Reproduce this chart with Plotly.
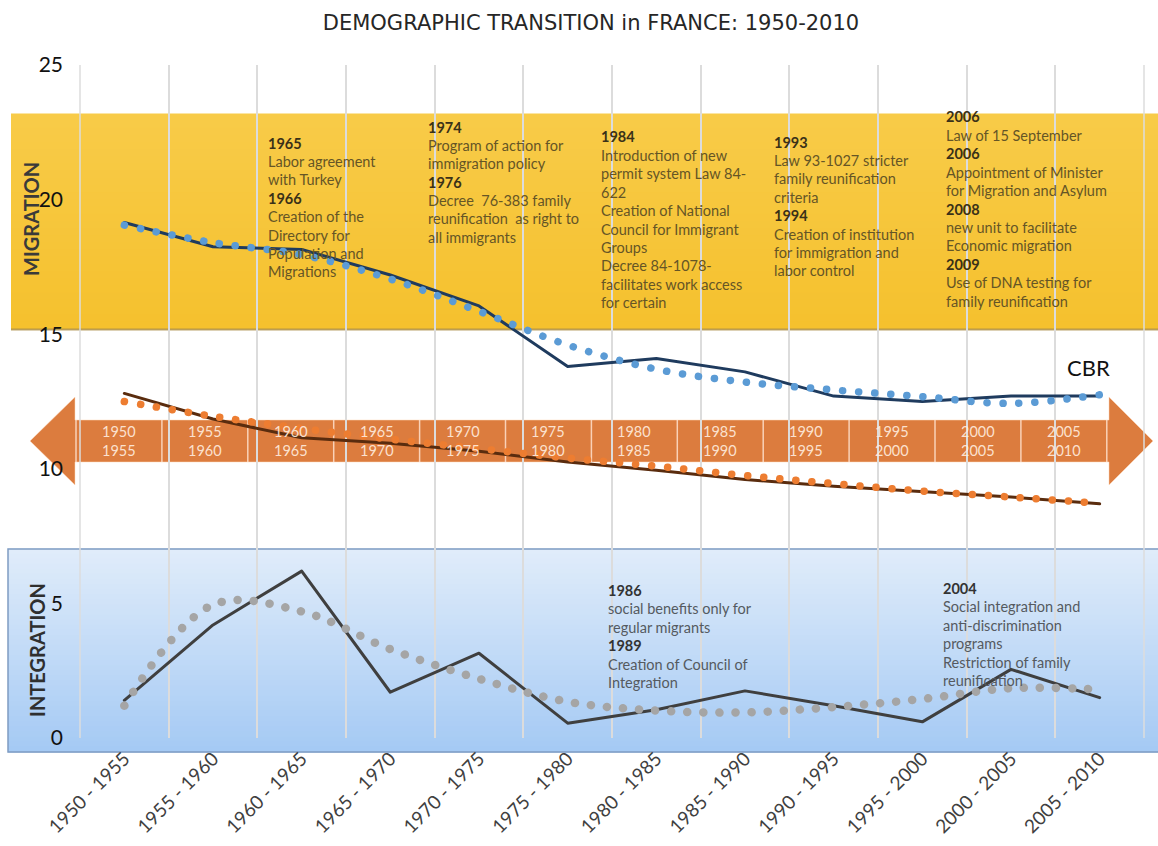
import plotly.graph_objects as go

# ---------------- data ----------------
categories = ["1950 - 1955", "1955 - 1960", "1960 - 1965", "1965 - 1970",
              "1970 - 1975", "1975 - 1980", "1980 - 1985", "1985 - 1990",
              "1990 - 1995", "1995 - 2000", "2000 - 2005", "2005 - 2010"]

cbr = [19.15, 18.25, 18.15, 17.2, 16.05, 13.8, 14.1, 13.6, 12.7, 12.5, 12.7, 12.7]
cbr_trend = [19.05, 18.4, 17.95, 17.05, 15.85, 14.6, 13.7, 13.22, 12.93, 12.68, 12.43, 12.75]

cdr = [12.8, 11.85, 11.15, 10.95, 10.65, 10.25, 9.95, 9.6, 9.35, 9.15, 8.95, 8.7]
cdr_trend = [12.5, 11.95, 11.5, 11.1, 10.75, 10.4, 10.1, 9.75, 9.45, 9.17, 8.95, 8.72]

integration = [1.4, 4.2, 6.2, 1.7, 3.15, 0.55, 1.05, 1.75, 1.2, 0.6, 2.55, 1.5]
integration_trend = [1.2, 4.95, 4.7, 3.3, 2.2, 1.35, 1.02, 0.95, 1.15, 1.45, 1.85, 1.8]

y_ticks = [0, 5, 10, 15, 20, 25]

arrow_start = ["1950", "1955", "1960", "1965", "1970", "1975",
               "1980", "1985", "1990", "1995", "2000", "2005"]
arrow_end = ["1955", "1960", "1965", "1970", "1975", "1980",
             "1985", "1990", "1995", "2000", "2005", "2010"]

migration_notes = [
    ["<b>1965</b>", "Labor agreement", "with Turkey", "<b>1966</b>", "Creation of the",
     "Directory for", "Population and", "Migrations"],
    ["<b>1974</b>", "Program of action for", "immigration policy", "<b>1976</b>",
     "Decree  76-383 family", "reunification  as right to", "all immigrants"],
    ["<b>1984</b>", "Introduction of new", "permit system Law 84-", "622",
     "Creation of National", "Council for Immigrant", "Groups", "Decree 84-1078-",
     "facilitates work access", "for certain"],
    ["<b>1993</b>", "Law 93-1027 stricter", "family reunification", "criteria",
     "<b>1994</b>", "Creation of institution", "for immigration and", "labor control"],
    ["<b>2006</b>", "Law of 15 September", "<b>2006</b>", "Appointment of Minister",
     "for Migration and Asylum", "<b>2008</b>", "new unit to facilitate",
     "Economic migration", "<b>2009</b>", "Use of DNA testing for", "family reunification"],
]
integration_notes = [
    ["<b>1986</b>", "social benefits only for", "regular migrants", "<b>1989</b>",
     "Creation of Council of", "Integration"],
    ["<b>2004</b>", "Social integration and", "anti-discrimination", "programs",
     "Restriction of family", "reunification"],
]

# ---------------- layout geometry ----------------
W, H = 1158, 846
L, R, T, B = 80, 1144, 65, 738   # plot area in pixels
FONT = "Lato"
GRID = "#DCDCDC"


def px(xp):
    return (xp - L) / (R - L)


def py(yp):
    return (B - yp) / (B - T)


fig = go.Figure()

line_w = 3
dot_w = 7.5
trend_dash = "0.1px,16px"

fig.add_trace(go.Scatter(x=categories, y=cbr, mode="lines",
                         line=dict(color="#1F3B5E", width=line_w), hoverinfo="skip"))
fig.add_trace(go.Scatter(x=categories, y=cdr, mode="lines",
                         line=dict(color="#5A2C0E", width=line_w), hoverinfo="skip"))
fig.add_trace(go.Scatter(x=categories, y=integration, mode="lines",
                         line=dict(color="#3F3F3F", width=line_w), hoverinfo="skip"))
fig.add_trace(go.Scatter(x=categories, y=cbr_trend, mode="lines",
                         line=dict(color="#5B9BD5", width=dot_w, dash=trend_dash,
                                   shape="spline", smoothing=1.0), hoverinfo="skip"))
fig.add_trace(go.Scatter(x=categories, y=cdr_trend, mode="lines",
                         line=dict(color="#ED7D31", width=dot_w, dash=trend_dash,
                                   shape="spline", smoothing=1.0), hoverinfo="skip"))
fig.add_trace(go.Scatter(x=categories, y=integration_trend, mode="lines",
                         line=dict(color="#A5A5A5", width=8.5, dash="0.1px,16px",
                                   shape="spline", smoothing=1.0), hoverinfo="skip"))

shapes = []


def band(x0, x1, y0, y1, ctop, cbot, n):
    h = (y1 - y0) / n
    for i in range(n):
        t = i / (n - 1)
        c = tuple(round(ctop[k] + (cbot[k] - ctop[k]) * t) for k in range(3))
        shapes.append(dict(type="rect", xref="paper", yref="paper", layer="below",
                           x0=px(x0), x1=px(x1),
                           y0=py(y0 + i * h - 0.6), y1=py(y0 + (i + 1) * h + 0.6),
                           fillcolor="rgb(%d,%d,%d)" % c, line=dict(width=0)))


# yellow migration band
band(11, 1158, 114, 329, (248, 203, 72), (245, 193, 46), 30)
shapes.append(dict(type="line", xref="paper", yref="paper", layer="below",
                   x0=px(11), x1=px(1158), y0=py(329.5), y1=py(329.5),
                   line=dict(color="rgba(170,140,70,0.8)", width=2)))
# blue integration band
band(8, 1158, 549, 752, (224, 236, 250), (165, 202, 244), 40)
shapes.append(dict(type="rect", xref="paper", yref="paper", layer="below",
                   x0=px(8), x1=px(1160), y0=py(549), y1=py(752),
                   fillcolor="rgba(0,0,0,0)", line=dict(color="#7F9CC2", width=1.5)))

# double-headed orange arrow
ax = [30, 75, 75, 1109, 1109, 1153, 1109, 1109, 75, 75]
ay = [441, 397, 420, 420, 397, 441, 485, 462, 462, 485]
path = "M " + " L ".join("%f,%f" % (px(a), py(b)) for a, b in zip(ax, ay)) + " Z"
shapes.append(dict(type="path", xref="paper", yref="paper", layer="below", path=path,
                   fillcolor="#DC7C3E", line=dict(color="rgba(255,220,190,0.5)", width=1)))
cell_x0, cell_w = 76, 85.9
for k in range(len(arrow_start) + 1):
    xx = cell_x0 + k * cell_w
    shapes.append(dict(type="line", xref="paper", yref="paper", layer="below",
                       x0=px(xx), x1=px(xx), y0=py(420), y1=py(462),
                       line=dict(color="rgba(255,225,205,0.85)", width=1.5)))

# outer vertical grid lines at the plot-area edges
for xx in (L, R):
    shapes.append(dict(type="line", xref="paper", yref="paper", layer="below",
                       x0=px(xx), x1=px(xx), y0=0, y1=1,
                       line=dict(color=GRID, width=1.5)))

annotations = []
for k, (a, b) in enumerate(zip(arrow_start, arrow_end)):
    annotations.append(dict(xref="paper", yref="paper", x=px(cell_x0 + (k + 0.5) * cell_w),
                            y=py(441), text=a + "<br>" + b, showarrow=False,
                            xanchor="center", yanchor="middle",
                            font=dict(family=FONT, size=14.5, color="rgba(255,236,222,0.92)")))


def note_block(lines, x_left, y_first, spacing, col, bcol):
    for i, t in enumerate(lines):
        annotations.append(dict(xref="paper", yref="paper", x=px(x_left), y=py(y_first + i * spacing),
                                text=t, showarrow=False, xanchor="left", yanchor="middle",
                                font=dict(family=FONT, size=14.5,
                                          color=bcol if t.startswith("<b>") else col)))


mig_pos = [(266, 143), (426, 127), (599, 137), (772, 142), (944, 117)]
for lines, (xl, yf) in zip(migration_notes, mig_pos):
    note_block(lines, xl, yf, 18.4, "#655526", "#3A3118")
int_pos = [(606, 590), (941, 588)]
for lines, (xl, yf) in zip(integration_notes, int_pos):
    note_block(lines, xl, yf, 18.5, "#555a60", "#333333")

# band labels
annotations.append(dict(xref="paper", yref="paper", x=px(31), y=py(219), text="<b>MIGRATION</b>",
                        textangle=-90, showarrow=False, xanchor="center", yanchor="middle",
                        font=dict(family=FONT, size=20, color="#3a3a3a")))
annotations.append(dict(xref="paper", yref="paper", x=px(37), y=py(650), text="<b>INTEGRATION</b>",
                        textangle=-90, showarrow=False, xanchor="center", yanchor="middle",
                        font=dict(family=FONT, size=20, color="#2f2f2f")))
annotations.append(dict(xref="paper", yref="paper", x=px(1088), y=py(367), text="CBR",
                        showarrow=False, xanchor="center", yanchor="middle",
                        font=dict(family=FONT, size=22, color="#111111")))

fig.update_layout(
    width=W, height=H,
    margin=dict(l=L, r=W - R, t=T, b=H - B),
    paper_bgcolor="white", plot_bgcolor="rgba(0,0,0,0)",
    showlegend=False,
    title=dict(text="DEMOGRAPHIC TRANSITION in FRANCE: 1950-2010",
               x=591 / W, xref="container", xanchor="center",
               y=1 - 23 / H, yref="container", yanchor="middle",
               font=dict(family="DejaVu Sans", size=21, color="#262626")),
    shapes=shapes,
    annotations=annotations,
    xaxis=dict(type="category", categoryorder="array", categoryarray=categories,
               range=[-0.5, len(categories) - 0.5], tickson="boundaries",
               showgrid=True, gridcolor=GRID, gridwidth=1.5, automargin=False,
               showline=False, zeroline=False, ticks="", tickangle=-45,
               ticklabelstandoff=5,
               tickfont=dict(family=FONT, size=19, color="#404040")),
    yaxis=dict(range=[0, 25], tickvals=y_ticks, ticktext=[str(v) for v in y_ticks],
               showgrid=False, zeroline=False, showline=False, ticks="",
               ticklabelstandoff=16, automargin=False,
               tickfont=dict(family=FONT, size=21, color="#111111")),
    font=dict(family=FONT),
)

post = """
document.body.style.margin='0';
document.body.style.overflow='hidden';
var st=document.createElement('style');
st.textContent='.js-line{stroke-linecap:round !important;stroke-linejoin:round !important;}';
document.head.appendChild(st);
"""
fig.write_html("out.html", post_script=post, config={"displayModeBar": False})
